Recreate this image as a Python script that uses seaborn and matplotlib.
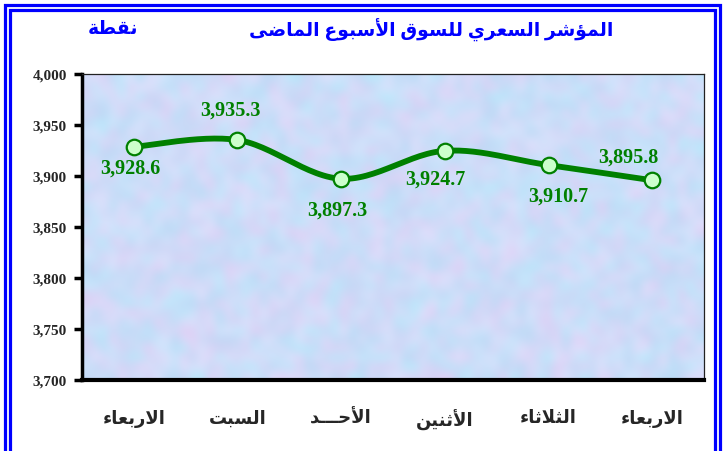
import numpy as np
import pandas as pd
import seaborn as sns
import matplotlib.pyplot as plt
from matplotlib.patches import Rectangle

## DATA
days = ["الاربعاء", "السبت", "الأحـــد", "الأثنين", "الثلاثاء", "الاربعاء"]
values = [3928.6, 3935.3, 3897.3, 3924.7, 3910.7, 3895.8]
value_labels = ["3,928.6", "3,935.3", "3,897.3", "3,924.7", "3,910.7", "3,895.8"]
title = "المؤشر السعري للسوق الأسبوع الماضى"
unit = "نقطة"
y_ticks = [3700, 3750, 3800, 3850, 3900, 3950, 4000]

## Arabic shaping (matplotlib has no RTL / joining support)
# (isolated, final, initial, medial) ; right-joining letters have 2 forms
FORMS = {
    'ا': ('\uFE8D', '\uFE8E'), 'أ': ('\uFE83', '\uFE84'), 'ؤ': ('\uFE85', '\uFE86'),
    'ء': ('\uFE80',), 'ب': ('\uFE8F', '\uFE90', '\uFE91', '\uFE92'),
    'ة': ('\uFE93', '\uFE94'), 'ت': ('\uFE95', '\uFE96', '\uFE97', '\uFE98'),
    'ث': ('\uFE99', '\uFE9A', '\uFE9B', '\uFE9C'), 'ح': ('\uFEA1', '\uFEA2', '\uFEA3', '\uFEA4'),
    'د': ('\uFEA9', '\uFEAA'), 'ر': ('\uFEAD', '\uFEAE'),
    'س': ('\uFEB1', '\uFEB2', '\uFEB3', '\uFEB4'), 'ش': ('\uFEB5', '\uFEB6', '\uFEB7', '\uFEB8'),
    'ض': ('\uFEBD', '\uFEBE', '\uFEBF', '\uFEC0'), 'ط': ('\uFEC1', '\uFEC2', '\uFEC3', '\uFEC4'),
    'ع': ('\uFEC9', '\uFECA', '\uFECB', '\uFECC'), 'ق': ('\uFED5', '\uFED6', '\uFED7', '\uFED8'),
    'ل': ('\uFEDD', '\uFEDE', '\uFEDF', '\uFEE0'), 'م': ('\uFEE1', '\uFEE2', '\uFEE3', '\uFEE4'),
    'ن': ('\uFEE5', '\uFEE6', '\uFEE7', '\uFEE8'), 'و': ('\uFEED', '\uFEEE'),
    'ى': ('\uFEEF', '\uFEF0'), 'ي': ('\uFEF1', '\uFEF2', '\uFEF3', '\uFEF4'),
    'ـ': ('ـ', 'ـ', 'ـ', 'ـ'),
    'لا': ('\uFEFB', '\uFEFC'), 'لأ': ('\uFEF7', '\uFEF8'),
}


def shape(text):
    toks = []
    i = 0
    while i < len(text):
        if text[i] == 'ل' and i + 1 < len(text) and text[i + 1] in 'اأ':
            toks.append(text[i:i + 2])
            i += 2
        else:
            toks.append(text[i])
            i += 1
    out = []
    for k, t in enumerate(toks):
        f = FORMS.get(t)
        if f is None:
            out.append(t)
            continue
        prev = FORMS.get(toks[k - 1]) if k > 0 else None
        nxt = FORMS.get(toks[k + 1]) if k + 1 < len(toks) else None
        jp = prev is not None and len(prev) == 4
        jn = len(f) == 4 and nxt is not None and len(nxt) > 1
        if len(f) == 4:
            out.append(f[3] if (jp and jn) else f[1] if jp else f[2] if jn else f[0])
        elif len(f) == 2:
            out.append(f[1] if jp else f[0])
        else:
            out.append(f[0])
    return ''.join(out)[::-1]


def smooth(xs, ys, n=30):
    # Excel style smoothed line (Bezier through the points)
    p = np.column_stack([xs, ys]).astype(float)
    p = np.vstack([p[0], p, p[-1]])
    t = np.linspace(0, 1, n)[:, None]
    segs = []
    for i in range(1, len(p) - 2):
        a, d = p[i], p[i + 1]
        b = a + (p[i + 1] - p[i - 1]) / 6
        c = d - (p[i + 2] - p[i]) / 6
        segs.append((1 - t) ** 3 * a + 3 * (1 - t) ** 2 * t * b + 3 * (1 - t) * t ** 2 * c + t ** 3 * d)
    return np.vstack(segs)


sns.set_theme(style="white")
plt.rcParams['font.family'] = ['Liberation Serif', 'DejaVu Sans']

df = pd.DataFrame({"pos": range(len(values)), "value": values})
curve = smooth(df["pos"], df["value"])
curve_df = pd.DataFrame(curve, columns=["pos", "value"])

fig = plt.figure(figsize=(7.28, 4.52), dpi=100)
ax = fig.add_axes([82 / 728, 71 / 452, 622 / 728, 306 / 452])

## textured background (light blue / lavender)
rng = np.random.default_rng(7)
tt = rng.random((34, 70))
ss = rng.random((34, 70))
img = np.dstack([0.73 + 0.15 * tt, 0.85 + 0.07 * ss - 0.04 * tt, 0.96 + 0.03 * ss])
ax.imshow(np.clip(img, 0, 1), extent=[0, 1, 0, 1], transform=ax.transAxes,
          aspect='auto', interpolation='bicubic', zorder=0)

sns.lineplot(data=curve_df, x="pos", y="value", sort=False, color="#008000",
             linewidth=4.2, ax=ax, zorder=3)
sns.scatterplot(data=df, x="pos", y="value", s=125, color="#ccffcc",
                edgecolor="#008000", linewidth=1.6, ax=ax, zorder=4)

offsets = [(-4, -21), (-7, 30), (-4, -31), (-10, -28), (10, -31), (-24, 24)]
for x, v, lab, off in zip(df["pos"], values, value_labels, offsets):
    ax.annotate(lab, (x, v), xytext=off, textcoords='offset pixels', ha='center',
                va='center', color="#008000", fontsize=14.5, fontweight='bold')

ax.set_xlim(-0.5, len(values) - 0.5)
ax.set_ylim(3700, 4000)
ax.set_yticks(y_ticks)
ax.set_yticklabels([f"{v:,}" for v in y_ticks], fontsize=11, fontweight='bold')
ax.set_xticks(np.arange(-0.5, len(values), 1.0))
ax.set_xticklabels([])
ax.set_xticks(range(len(values)), minor=True)
ax.set_xticklabels([shape(d) for d in days], minor=True, fontsize=13, fontweight='bold')
ax.tick_params(axis='x', which='major', direction='inout', length=11, width=2.5, color='black')
ax.tick_params(axis='x', which='minor', length=0, pad=21)
ax.tick_params(axis='y', direction='out', length=6, width=2.5, color='black', left=True, pad=5)
ax.set_xlabel("")
ax.set_ylabel("")
for side in ['left', 'bottom']:
    ax.spines[side].set_color('black')
ax.spines['left'].set_linewidth(2.5)
ax.spines['bottom'].set_linewidth(3)
for side in ['top', 'right']:
    ax.spines[side].set_color('#222222')
    ax.spines[side].set_linewidth(0.9)

fig.text(431 / 728, 1 - 30 / 452, shape(title), ha='center', va='center',
         color='#0000ff', fontsize=13.5, fontweight='bold')
fig.text(113 / 728, 1 - 29 / 452, shape(unit), ha='center', va='center',
         color='#0000ff', fontsize=13.5, fontweight='bold')

## double blue frame
W, H = 728, 452
for x0, x1, y0 in [(4.5, 719.5, 6), (9.5, 714.5, 11)]:
    fig.patches.append(Rectangle((x0 / W, -0.1), (x1 - x0) / W, 1.1 - y0 / H,
                                 transform=fig.transFigure, fill=False,
                                 edgecolor='#0000ff', linewidth=2.3, clip_on=False))

fig.savefig("out.png", dpi=100)
